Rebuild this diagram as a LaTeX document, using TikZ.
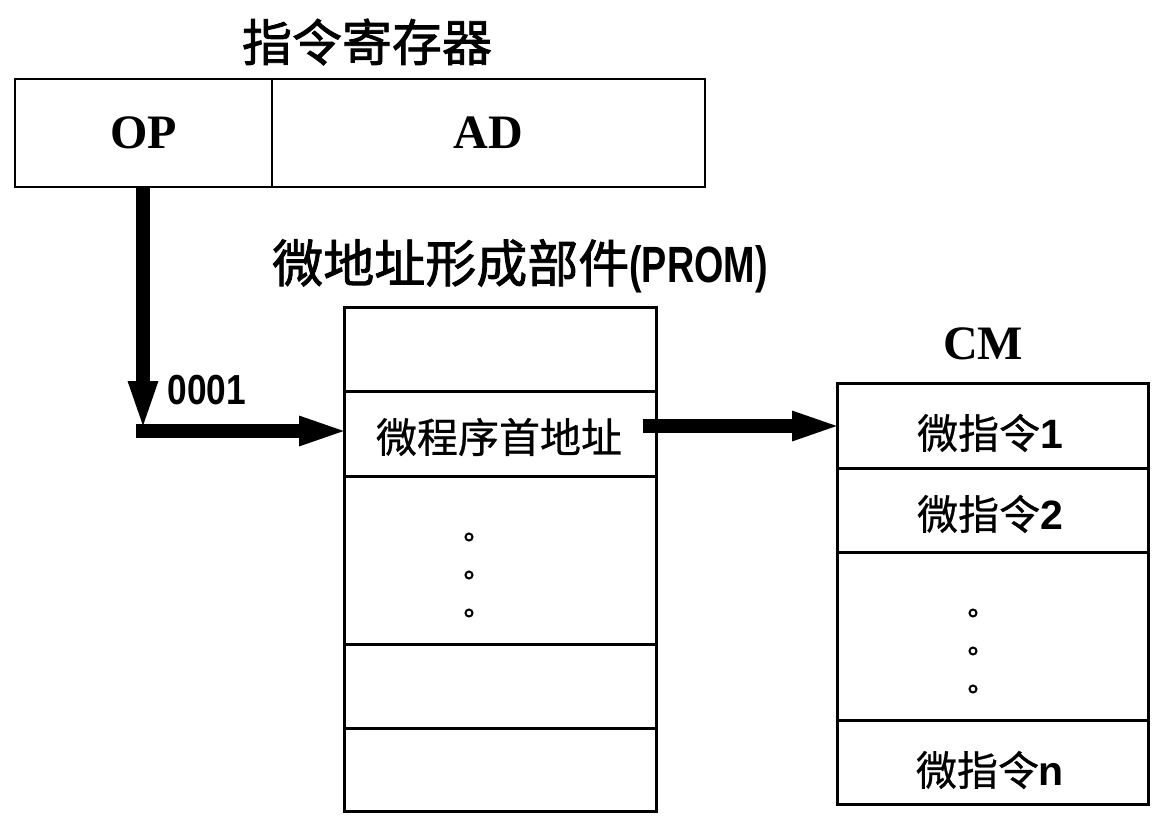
\documentclass[tikz,border=0pt]{standalone}
\usepackage{fontspec}
\setmainfont{Liberation Serif}
\setsansfont{Liberation Sans}
\newfontfamily\cjk{Noto Sans CJK SC}
\newfontfamily\cjkt[FakeBold=1.6]{Noto Sans CJK SC}
\newfontfamily\cjkc[FakeBold=0.6]{Noto Sans CJK SC}
\usetikzlibrary{arrows.meta}
\begin{document}
\begin{tikzpicture}[x=1pt,y=-1pt,
  regcell/.style={draw, line width=2pt, minimum height=108pt, inner sep=0pt, anchor=north west,
    font=\bfseries\fontsize{48}{48}\selectfont},
  promcell/.style={draw, line width=3pt, minimum width=312pt, inner sep=0pt, anchor=north west},
  cmcell/.style={draw, line width=2.5pt, minimum width=311pt, inner sep=0pt, anchor=north west},
  cjktitle/.style={inner sep=0pt, font=\cjkt\fontsize{50}{50}\selectfont},
  celltext/.style={inner sep=0pt, font=\cjkc\fontsize{41}{41}\selectfont},
  latintitle/.style={inner sep=0pt, font=\bfseries\fontsize{48}{48}\selectfont},
  dotmark/.style={draw, line width=2pt, circle, minimum size=7pt, inner sep=0pt},
  busarrow/.style={line width=13.5pt, shorten >=-7pt, -{Triangle[length=51pt,width=26pt]}},
]
\useasboundingbox (0,0) rectangle (1168,822);
\fill[white] (0,0) rectangle (1168,822);

% instruction register
\node[cjktitle] (regtitle) at (367,42) {指令寄存器};
\node[regcell, minimum width=257pt] (op) at (14,78) {OP};
\node[regcell, minimum width=433pt] (ad) at (271,78) {AD};

% PROM
\node[cjktitle, font=\cjkt\fontsize{51}{51}\selectfont] (promtitle) at (520,266) {微地址形成部件{\sffamily\bfseries\scalebox{0.74}[1]{(PROM)}}};
\node[promcell, minimum height=84pt] (p1) at (343,306) {};
\node[promcell, minimum height=85pt] (p2) at (343,390) {};
\node[promcell, minimum height=168pt] (p3) at (343,475) {};
\node[promcell, minimum height=84pt] (p4) at (343,643) {};
\node[promcell, minimum height=83pt] (p5) at (343,727) {};
\node[celltext] (ptext) at (499,437) {微程序首地址};
\node[dotmark] (pd1) at (469,537) {};
\node[dotmark] (pd2) at (469,575) {};
\node[dotmark] (pd3) at (469,613) {};

% CM
\node[latintitle] (cmtitle) at (983,344) {CM};
\node[cmcell, minimum height=85pt] (c1) at (836,382) {};
\node[cmcell, minimum height=84pt] (c2) at (836,467) {};
\node[cmcell, minimum height=168pt] (c3) at (836,551) {};
\node[cmcell, minimum height=84pt] (c4) at (836,719) {};
\node[celltext] (ctext1) at (990,433) {微指令{\sffamily\bfseries 1}};
\node[celltext] (ctext2) at (990,514) {微指令{\sffamily\bfseries 2}};
\node[celltext] (ctextn) at (990,770) {微指令{\sffamily\bfseries n}};
\node[dotmark] (cd1) at (973,613) {};
\node[dotmark] (cd2) at (973,651) {};
\node[dotmark] (cd3) at (973,689) {};

% connectors
\coordinate (opout) at (143,186);
\coordinate (downend) at (143,425);
\coordinate (corner) at (136.25,431);
\coordinate (promin) at (343,431);
\coordinate (promout) at (643,426);
\coordinate (cmin) at (836,426);
\draw[busarrow] (opout) -- (downend);
\draw[busarrow] (corner) -- (promin);
\draw[busarrow] (promout) -- (cmin);
\node[inner sep=0pt, font=\sffamily\bfseries\fontsize{42}{42}\selectfont] (lab) at (207,390) {\scalebox{0.84}[1]{0001}};
\end{tikzpicture}
\end{document}
